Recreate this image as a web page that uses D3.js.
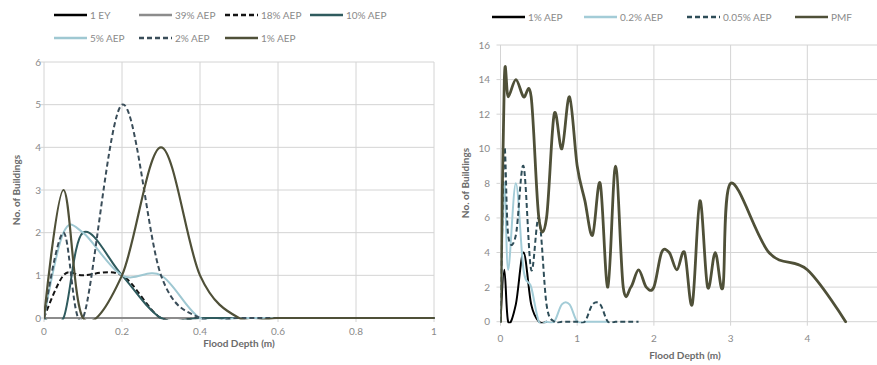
<!DOCTYPE html>
<html>
<head>
<meta charset="utf-8">
<script src="https://cdnjs.cloudflare.com/ajax/libs/d3/7.8.5/d3.min.js"></script>
<style>
  body { margin: 0; background: #fff; }
  svg { display: block; font-family: Lato, "Open Sans", sans-serif; }
</style>
</head>
<body>
<svg id="chart" width="877" height="365"></svg>
<script>
// ---- Left panel: buildings per flood depth, frequent events ----
const leftDepth = [0, 0.05, 0.1, 0.2, 0.3, 0.4, 0.5, 0.6, 0.7, 0.8, 0.9, 1.0];
const ey1     = [0, 0, 0, 0, 0, 0, 0, 0, 0, 0, 0, 0];
const aep39   = [0, 0, 0, 0, 0, 0, 0, 0, 0, 0, 0, 0];
const aep18   = [0, 1, 1, 1, 0, 0, 0, 0, 0, 0, 0, 0];
const aep10   = [0, 0, 2, 1, 0, 0, 0, 0, 0, 0, 0, 0];
const aep5    = [0, 2, 2, 1, 1, 0, 0, 0, 0, 0, 0, 0];
const aep2    = [0, 2, 0, 5, 1, 0, 0, 0, 0, 0, 0, 0];
const aep1    = [0, 3, 0, 1, 4, 1, 0, 0, 0, 0, 0, 0];
const leftXTicks = [0, 0.2, 0.4, 0.6, 0.8, 1];
const leftYTicks = [0, 1, 2, 3, 4, 5, 6];

// ---- Right panel: rare events and PMF ----
const rDepth1   = [0, 0.05, 0.1, 0.2, 0.3, 0.4, 0.5, 0.6];
const rAep1     = [0, 3, 0, 1, 4, 1, 0, 0];
const rDepth02  = [0, 0.05, 0.1, 0.2, 0.3, 0.4, 0.5, 0.6, 0.7, 0.8, 0.9, 1.0, 1.1, 1.2, 1.3, 1.4];
const rAep02    = [0, 8, 3, 8, 3, 2, 0, 0, 0, 1, 1, 0, 0, 0, 0, 0];
const rDepth005 = [0, 0.05, 0.1, 0.2, 0.3, 0.4, 0.5, 0.6, 0.7, 0.8, 0.9, 1.0, 1.1, 1.2, 1.3, 1.4, 1.5, 1.6, 1.7, 1.8];
const rAep005   = [0, 10, 5, 5, 9, 3, 6, 1, 0, 0, 0, 0, 0, 1, 1, 0, 0, 0, 0, 0];
const pmfDepth  = [0, 0.05, 0.1, 0.2, 0.3, 0.4, 0.5, 0.6, 0.7, 0.8, 0.9, 1.0, 1.1, 1.2, 1.3, 1.4, 1.5,
                   1.6, 1.7, 1.8, 1.9, 2.0, 2.1, 2.2, 2.3, 2.4, 2.5, 2.6, 2.7, 2.8, 2.9, 3.0, 3.5, 4.0, 4.5];
const pmf       = [0, 14, 13, 14, 13, 13, 6, 6, 12, 10, 13, 9, 7, 5, 8, 2, 9,
                   2, 2, 3, 2, 2, 4, 4, 3, 4, 1, 7, 2, 4, 2, 8, 4, 3, 0];
const rightXGrid   = [0, 1, 2, 3, 4, 5];
const rightXLabels = [0, 1, 2, 3, 4];
const rightYTicks  = [0, 2, 4, 6, 8, 10, 12, 14, 16];

const svg = d3.select("#chart");
const gridColor = "#d4d4d4";
const tickColor = "#8a8a8a";
const titleColor = "#6b6b6b";

function drawPanel(cfg) {
  const x = d3.scaleLinear().domain(cfg.xDomain).range(cfg.xRange);
  const y = d3.scaleLinear().domain(cfg.yDomain).range(cfg.yRange);
  const g = svg.append("g");
  const x0 = cfg.xRange[0], x1 = Math.min(cfg.xRange[1], 877);
  const yBot = cfg.yRange[0], yTop = cfg.yRange[1];

  // gridlines (extend slightly past the axes as tick marks)
  g.selectAll(".hgrid").data(cfg.yTicks).join("line")
    .attr("x1", x0 - 4).attr("x2", x1)
    .attr("y1", d => y(d)).attr("y2", d => y(d))
    .attr("stroke", gridColor).attr("stroke-width", 1);
  g.selectAll(".vgrid").data(cfg.xGrid).join("line")
    .attr("x1", d => x(d)).attr("x2", d => x(d))
    .attr("y1", yTop).attr("y2", yBot + 4)
    .attr("stroke", gridColor).attr("stroke-width", 1);

  // tick labels
  g.selectAll(".ylab").data(cfg.yTicks).join("text")
    .attr("x", cfg.yLabelX).attr("y", d => y(d)).attr("dy", "0.35em")
    .attr("text-anchor", "end").attr("font-size", 10).attr("fill", tickColor)
    .text(d => d);
  g.selectAll(".xlab").data(cfg.xLabels).join("text")
    .attr("x", d => x(d)).attr("y", cfg.xLabelY).attr("dy", "0.35em")
    .attr("text-anchor", "middle").attr("font-size", 10).attr("fill", tickColor)
    .text(d => d);

  // axis titles
  g.append("text")
    .attr("x", cfg.xTitle[0]).attr("y", cfg.xTitle[1]).attr("dy", "0.35em")
    .attr("text-anchor", "middle").attr("font-size", 10).attr("font-weight", 700)
    .attr("fill", titleColor).text("Flood Depth (m)");
  g.append("text")
    .attr("transform", `translate(${cfg.yTitle[0]},${cfg.yTitle[1]}) rotate(-90)`)
    .attr("dy", "0.35em")
    .attr("text-anchor", "middle").attr("font-size", 10).attr("font-weight", 700)
    .attr("fill", titleColor).text("No. of Buildings");

  // clip region: the plot area, with a little room for lines lying on zero
  const clipId = cfg.id + "-clip";
  svg.append("defs").append("clipPath").attr("id", clipId)
    .append("rect").attr("x", x0).attr("y", yTop - 2)
    .attr("width", x1 - x0 + 2).attr("height", yBot - yTop + 3.5);

  // smoothed lines: uniform Catmull-Rom through the data points
  const line = d3.line()
    .x(d => x(d[0])).y(d => y(d[1]))
    .curve(d3.curveCardinal.tension(0));

  const lines = g.append("g").attr("clip-path", `url(#${clipId})`);
  cfg.series.forEach(s => {
    const pts = s.depth.map((dv, i) => [dv, s.values[i]]);
    lines.append("path")
      .attr("d", line(pts))
      .attr("fill", "none")
      .attr("stroke", s.color)
      .attr("stroke-width", s.width)
      .attr("stroke-dasharray", s.dash ? "5,3" : null)
      .attr("stroke-linejoin", "round")
      .attr("stroke-linecap", s.dash ? "butt" : "round");
  });

  // legend
  const lg = g.append("g");
  cfg.series.forEach((s, i) => {
    const p = cfg.legend[i];
    lg.append("line")
      .attr("x1", p[0]).attr("x2", p[0] + 33)
      .attr("y1", p[1]).attr("y2", p[1])
      .attr("stroke", s.color).attr("stroke-width", 2.5)
      .attr("stroke-dasharray", s.dash ? "5,3" : null);
    lg.append("text")
      .attr("x", p[0] + 36).attr("y", p[1]).attr("dy", "0.35em")
      .attr("font-size", 10).attr("fill", tickColor)
      .text(s.name);
  });
}

drawPanel({
  id: "left",
  xDomain: [0, 1], xRange: [44, 434],
  yDomain: [0, 6], yRange: [318, 62],
  xGrid: leftXTicks, xLabels: leftXTicks, yTicks: leftYTicks,
  yLabelX: 41, xLabelY: 331,
  xTitle: [239, 343], yTitle: [16, 190],
  series: [
    { name: "1 EY",    depth: leftDepth, values: ey1,   color: "#000000", width: 2 },
    { name: "39% AEP", depth: leftDepth, values: aep39, color: "#8c8c8c", width: 2 },
    { name: "18% AEP", depth: leftDepth, values: aep18, color: "#141414", width: 2, dash: true },
    { name: "10% AEP", depth: leftDepth, values: aep10, color: "#2f5b5e", width: 2 },
    { name: "5% AEP",  depth: leftDepth, values: aep5,  color: "#9fc8d2", width: 2 },
    { name: "2% AEP",  depth: leftDepth, values: aep2,  color: "#3a4d59", width: 2, dash: true },
    { name: "1% AEP",  depth: leftDepth, values: aep1,  color: "#4f5038", width: 2.2 }
  ],
  legend: [[54, 15], [139, 15], [225, 15], [310, 15], [54, 38], [139, 38], [225, 38]]
});

drawPanel({
  id: "right",
  xDomain: [0, 5], xRange: [500.5, 884],
  yDomain: [0, 16], yRange: [321.7, 45],
  xGrid: rightXGrid, xLabels: rightXLabels, yTicks: rightYTicks,
  yLabelX: 490, xLabelY: 338,
  xTitle: [685, 355], yTitle: [465, 183],
  series: [
    { name: "1% AEP",    depth: rDepth1,   values: rAep1,   color: "#000000", width: 2 },
    { name: "0.2% AEP",  depth: rDepth02,  values: rAep02,  color: "#a3ccd7", width: 2 },
    { name: "0.05% AEP", depth: rDepth005, values: rAep005, color: "#2e4d58", width: 2, dash: true },
    { name: "PMF",       depth: pmfDepth,  values: pmf,     color: "#4f5038", width: 2.8 }
  ],
  legend: [[492, 17], [584, 17], [687, 17], [795, 17]]
});
</script>
</body>
</html>
